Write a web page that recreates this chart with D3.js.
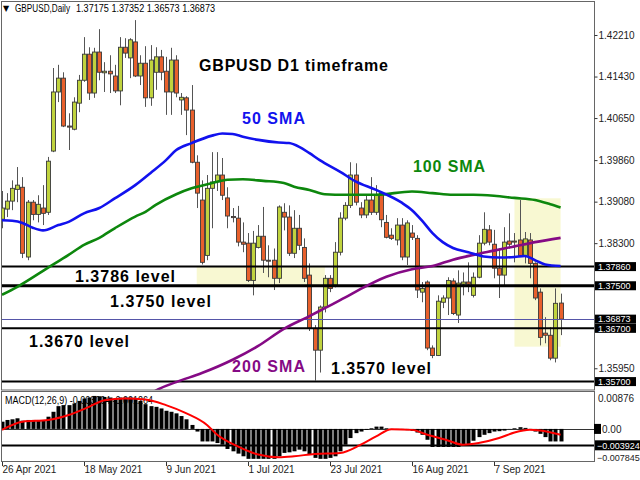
<!DOCTYPE html>
<html><head><meta charset="utf-8">
<script src="https://cdn.jsdelivr.net/npm/d3@7"></script>
<style>
body{margin:0;background:#fff}
svg{display:block}
text{font-family:"Liberation Sans",Arial,sans-serif}
</style>
</head><body>
<svg id="c" width="640" height="480"></svg>
<script>
// ---------- DATA ----------
const openP = [1.3875,1.3894,1.3909,1.3931,1.3935,1.3804,1.3907,1.3884,1.3896,1.3888,
1.4003,1.4114,1.4140,1.4050,1.4044,1.4093,1.4136,1.4185,1.4112,1.4189,
1.4150,1.4153,1.4144,1.4116,1.4198,1.4178,1.4208,1.4144,1.4168,1.4103,
1.4151,1.4180,1.4153,1.4114,1.4174,1.4099,1.4103,1.4080,1.3982,1.3911,
1.3807,1.3933,1.3945,1.3958,1.3915,1.3880,1.3877,1.3832,1.3830,1.3760,
1.3822,1.3843,1.3798,1.3798,1.3764,1.3888,1.3879,1.3811,1.3858,1.3822,
1.3770,1.3670,1.3629,1.3710,1.3764,1.3751,1.3813,1.3877,1.3901,1.3958,
1.3896,1.3883,1.3911,1.3888,1.3924,1.3869,1.3845,1.3836,1.3864,1.3804,
1.3849,1.3839,1.3738,1.3757,1.3633,1.3619,1.3719,1.3727,1.3759,1.3695,
1.3753,1.3757,1.3732,1.3766,1.3830,1.3855,1.3828,1.3783,1.3770,1.3834,
1.3834,1.3836,1.3807,1.3836,1.3792,1.3738,1.3661,1.3657,1.3614,1.37175];
const highP = [1.3928,1.3924,1.3948,1.3973,1.3954,1.3911,1.3911,1.3920,1.3939,1.3992,
1.4159,1.4165,1.4151,1.4074,1.4104,1.4146,1.4217,1.4198,1.4197,1.4232,
1.4170,1.4183,1.4165,1.4217,1.4215,1.4215,1.4249,1.4183,1.4200,1.4202,
1.4198,1.4193,1.4180,1.4197,1.4183,1.4112,1.4106,1.4127,1.3995,1.3948,
1.3958,1.4001,1.4001,1.3990,1.3935,1.3896,1.3900,1.3869,1.3849,1.3853,
1.3864,1.3898,1.3826,1.3820,1.3901,1.3905,1.3901,1.3892,1.3883,1.3839,
1.3792,1.3676,1.3713,1.3770,1.3770,1.3832,1.3888,1.3907,1.3982,1.3980,
1.3907,1.3920,1.3954,1.3939,1.3926,1.3883,1.3858,1.3877,1.3877,1.3873,
1.3864,1.3845,1.3757,1.3760,1.3638,1.3732,1.3732,1.3766,1.3764,1.3779,
1.3775,1.3794,1.3775,1.3845,1.3888,1.3864,1.3855,1.3820,1.3860,1.3886,
1.3849,1.3911,1.3851,1.3849,1.3794,1.3745,1.3691,1.3672,1.3745,1.37352];
const lowP = [1.3858,1.3879,1.3892,1.3907,1.3802,1.3798,1.3873,1.3869,1.3864,1.3883,
1.4001,1.4095,1.4048,1.4005,1.4042,1.4076,1.4133,1.4099,1.4103,1.4136,
1.4114,1.4112,1.4112,1.4089,1.4178,1.4140,1.4142,1.4127,1.4086,1.4088,
1.4118,1.4136,1.4071,1.4071,1.4104,1.4071,1.4033,1.3980,1.3896,1.3790,
1.3798,1.3858,1.3928,1.3911,1.3858,1.3869,1.3824,1.3813,1.3757,1.3732,
1.3820,1.3774,1.3766,1.3742,1.3755,1.3854,1.3806,1.3802,1.3817,1.3757,
1.3665,1.3572,1.3587,1.3700,1.3738,1.3747,1.3807,1.3873,1.3896,1.3901,
1.3877,1.3877,1.3883,1.3883,1.3860,1.3839,1.3836,1.3826,1.3798,1.3789,
1.3836,1.3727,1.3719,1.3629,1.3614,1.3618,1.3708,1.3695,1.3695,1.3680,
1.3732,1.3738,1.3728,1.3764,1.3826,1.3826,1.3764,1.3727,1.3751,1.3820,
1.3794,1.3804,1.3792,1.3764,1.3723,1.3638,1.3642,1.3610,1.3606,1.36573];
const closeP = [1.3896,1.3909,1.3933,1.3939,1.3811,1.3907,1.3884,1.3903,1.3886,1.3984,
1.4114,1.4140,1.4050,1.4048,1.4095,1.4136,1.4185,1.4112,1.4189,1.4151,
1.4153,1.4148,1.4116,1.4198,1.4187,1.4212,1.4144,1.4168,1.4103,1.4174,
1.4180,1.4151,1.4114,1.4174,1.4112,1.4104,1.4080,1.3982,1.3924,1.3794,
1.3933,1.3945,1.3958,1.3920,1.3881,1.3878,1.3832,1.3828,1.3760,1.3830,
1.3843,1.3798,1.3797,1.3764,1.3898,1.3879,1.3811,1.3858,1.3826,1.3764,
1.3670,1.3629,1.3710,1.3764,1.3745,1.3813,1.3877,1.3901,1.3958,1.3907,
1.3883,1.3911,1.3888,1.3920,1.3874,1.3841,1.3839,1.3864,1.3804,1.3868,
1.3841,1.3742,1.3745,1.3633,1.3619,1.3721,1.3727,1.3760,1.3698,1.3755,
1.3757,1.3753,1.3766,1.3830,1.3856,1.3832,1.3783,1.3770,1.3832,1.3828,
1.3832,1.3807,1.3838,1.3792,1.3727,1.3653,1.3657,1.3614,1.3717,1.36873];

const sma50Idx = [0,2,4,6,8,11,13,16,19,22,26,29,32,34,37,41,43,45,47,50,54,56,58,60,62,66,69,73,78,80,82,84,86,88,91,94,97,100,102,104,106,109];
const sma50Val = [1.3873,1.3872,1.3868,1.3859,1.3854,1.3864,1.3870,1.3886,1.3896,1.3914,1.3939,1.3962,1.3986,1.4005,1.4018,1.4032,1.4036,1.4035,1.4030,1.4024,1.4019,1.4018,1.4011,1.3999,1.3986,1.3964,1.3946,1.3930,1.3906,1.3892,1.3872,1.3849,1.3832,1.3821,1.3813,1.3805,1.3803,1.3804,1.3806,1.3798,1.3790,1.3787];
const sma100Idx = [0,3,9,13,16,19,22,26,28,30,34,37,41,44,47,51,55,57,60,63,67,73,80,84,88,92,96,100,104,107,109];
const sma100Val = [1.3733,1.3748,1.3784,1.3808,1.3827,1.3840,1.3858,1.3880,1.3889,1.3902,1.3922,1.3933,1.3943,1.3949,1.3950,1.3947,1.3943,1.3936,1.3930,1.3922,1.3921,1.3921,1.3927,1.3924,1.3921,1.3921,1.3919,1.3915,1.3911,1.3903,1.3897];
const sma200Idx = [28,30,34,39,45,50,55,60,63,67,70,75,80,84,88,92,96,100,104,109];
const sma200Val = [1.3540,1.3553,1.3569,1.3586,1.3611,1.3637,1.3669,1.3693,1.3708,1.3728,1.3744,1.3767,1.3781,1.3787,1.3799,1.3808,1.3816,1.3824,1.3832,1.3840];

const macdHist = [0.00173,0.00214,0.00230,0.00254,0.00197,0.00214,0.00214,0.00214,0.00214,0.00292,
0.00410,0.00545,0.00569,0.00569,0.00609,0.00670,0.00727,0.00751,0.00789,0.00781,
0.00765,0.00751,0.00727,0.00751,0.00751,0.00751,0.00727,0.00670,0.00592,0.00545,
0.00528,0.00490,0.00434,0.00410,0.00372,0.00308,0.00230,0.00095,-0.00063,-0.00300,
-0.00300,-0.00300,-0.00338,-0.00378,-0.00480,-0.00536,-0.00591,-0.00655,-0.00716,-0.00716,
-0.00716,-0.00716,-0.00716,-0.00716,-0.00655,-0.00574,-0.00560,-0.00536,-0.00496,-0.00536,
-0.00614,-0.00693,-0.00716,-0.00716,-0.00693,-0.00655,-0.00536,-0.00378,-0.00219,-0.00101,
-0.00063,-0.00023,0.00017,0.00055,0.00055,0.00017,-0.00006,-0.00023,-0.00023,-0.00030,
-0.00047,-0.00087,-0.00141,-0.00260,-0.00432,-0.00432,-0.00432,-0.00432,-0.00432,-0.00432,
-0.00402,-0.00361,-0.00283,-0.00196,-0.00141,-0.00101,-0.00063,-0.00054,-0.00040,-0.00006,
0.00017,0.00041,0.00024,-0.00006,-0.00063,-0.00118,-0.00196,-0.00300,-0.00300,-0.00300];
const sigIdx = [0,4,9,13,17,20,24,28,32,36,40,42,46,50,54,57,61,66,70,73,76,80,83,87,90,93,97,100,103,105,109];
const sigVal = [-0.00023,0.00173,0.00214,0.00332,0.00528,0.00687,0.00727,0.00703,0.00569,0.00372,0.00095,-0.00141,-0.00418,-0.00614,-0.00678,-0.00655,-0.00598,-0.00574,-0.00378,-0.00181,-0.00006,-0.00023,-0.00141,-0.00276,-0.00378,-0.00338,-0.00219,-0.00087,-0.00023,-0.00040,-0.00141];

const levels = [1.3786, 1.3750, 1.3670, 1.3570];
const levelLabels = ["1.3786 level","1.3750 level","1.3670 level","1.3570 level"];
const bidPrice = 1.36873;
const priceTicks = [1.42210,1.41430,1.40650,1.39860,1.39080,1.38300,1.37520,1.36730,1.35950];
const hiddenTicks = [1.37520,1.36730];
const dateIdx = [0,16,32,48,64,80,96];
const dateLabels = ["26 Apr 2021","18 May 2021","9 Jun 2021","1 Jul 2021","23 Jul 2021","16 Aug 2021","7 Sep 2021"];
const zoneStart = [38,100], zoneEnd = [63,109], zoneTop = [1.3786,1.39143], zoneBottom = [1.3750,1.36356];
const macdLevels = [0,-0.003924];
const macdTicks = [0.00876,-0.007845];
const headerSymbol = "GBPUSD,Daily";
const headerOHLC = "1.37175 1.37352 1.36573 1.36873";
const macdTitle = "MACD(12,26,9) -0.003004 -0.001264";

// ---------- SCALES ----------
const svg = d3.select("#c");
const x = d3.scaleLinear().domain([0,109]).range([2,560.6]);
const y = d3.scaleLinear().domain([1.35542,1.42830]).range([390,2]);
const ym = d3.scaleLinear().domain([-0.007845,0.00876]).range([461.7,392.3]);
const px = i => Math.round(x(i));

svg.append("rect").attr("width",640).attr("height",480).attr("fill","#fff");
const defs = svg.append("defs");
defs.append("clipPath").attr("id","clipMain").append("rect").attr("x",2).attr("y",2).attr("width",592).attr("height",388);
defs.append("clipPath").attr("id","clipMacd").append("rect").attr("x",2).attr("y",392).attr("width",592).attr("height",70);

const main = svg.append("g").attr("clip-path","url(#clipMain)");

// zones
main.selectAll("rect.zone").data(zoneStart).join("rect").attr("class","zone")
  .attr("x",(d,i)=>x(d)).attr("width",(d,i)=>x(zoneEnd[i])-x(d))
  .attr("y",(d,i)=>y(zoneTop[i])).attr("height",(d,i)=>y(zoneBottom[i])-y(zoneTop[i]))
  .attr("fill","#f8f8d2");

// candles
const idx = d3.range(openP.length);
main.selectAll("line.wick").data(idx).join("line").attr("class","wick")
  .attr("x1",i=>px(i)+0.5).attr("x2",i=>px(i)+0.5)
  .attr("y1",i=>y(highP[i])).attr("y2",i=>y(lowP[i]))
  .attr("stroke","#555").attr("stroke-width",1);
main.selectAll("rect.body").data(idx).join("rect").attr("class","body")
  .attr("x",i=>px(i)-1.5).attr("width",4)
  .attr("y",i=>y(Math.max(openP[i],closeP[i])))
  .attr("height",i=>Math.max(1,y(Math.min(openP[i],closeP[i]))-y(Math.max(openP[i],closeP[i]))))
  .attr("fill",i=>closeP[i]>=openP[i]?"#c0d33e":"#e8602c")
  .attr("stroke","#3a3a3a").attr("stroke-width",0.9);

// horizontal levels
const lvW = [2,3,2,2];
main.selectAll("line.lvl").data(levels).join("line").attr("class","lvl")
  .attr("x1",2).attr("x2",594).attr("y1",d=>y(d)).attr("y2",d=>y(d))
  .attr("stroke","#000").attr("stroke-width",(d,i)=>lvW[i]);
main.append("line").attr("x1",2).attr("x2",594).attr("y1",Math.round(y(bidPrice))+0.5).attr("y2",Math.round(y(bidPrice))+0.5)
  .attr("stroke","#5555a8").attr("stroke-width",1);

// SMAs
const lineGen = d3.line().x(d=>x(d[0])).y(d=>y(d[1])).curve(d3.curveMonotoneX);
const smas = [[sma100Idx,sma100Val,"#0d870d"],[sma200Idx,sma200Val,"#850a85"],[sma50Idx,sma50Val,"#1212ee"]];
smas.forEach(s=>{
  main.append("path").datum(s[0].map((d,i)=>[d,s[1][i]])).attr("d",lineGen)
    .attr("fill","none").attr("stroke",s[2]).attr("stroke-width",2.6).attr("stroke-linejoin","round");
});

// annotations
const ann = [
  ["GBPUSD D1 timeframe",199,70.5,189,"#000"],
  ["50 SMA",242,124,63,"#1212ee"],
  ["100 SMA",413,172,72,"#0d870d"],
  [levelLabels[0],75,282,100,"#000"],
  [levelLabels[1],110,307,101,"#000"],
  [levelLabels[2],29,346.5,100,"#000"],
  ["200 SMA",232,371.5,73,"#850a85"],
  [levelLabels[3],331,374,100,"#000"]
];
ann.forEach(a=>{
  svg.append("text").text(a[0]).attr("x",a[1]).attr("y",a[2])
    .attr("font-size",16).attr("font-weight","bold").attr("fill",a[4])
    .attr("textLength",a[3]).attr("lengthAdjust","spacing");
});

// header
svg.append("text").text("\u25BC").attr("x",3).attr("y",11).attr("font-size",8).attr("fill","#000").style("font-family","DejaVu Sans");
svg.append("text").text(headerSymbol).attr("x",15).attr("y",12).attr("font-size",10).attr("fill","#000")
  .attr("textLength",55).attr("lengthAdjust","spacingAndGlyphs");
svg.append("text").text(headerOHLC).attr("x",76).attr("y",12).attr("font-size",10).attr("fill","#000")
  .attr("textLength",139).attr("lengthAdjust","spacingAndGlyphs");

// frames
svg.append("rect").attr("x",1.5).attr("y",1.5).attr("width",593).attr("height",388.5).attr("fill","none").attr("stroke","#666");
svg.append("rect").attr("x",1.5).attr("y",391.5).attr("width",593).attr("height",70).attr("fill","none").attr("stroke","#666");

// right price axis
const ax = svg.append("g").attr("transform","translate(594.5,0)")
  .call(d3.axisRight(y).tickValues(priceTicks).tickSize(3).tickPadding(1)
    .tickFormat(d=>hiddenTicks.includes(d)?"":d3.format(".5f")(d)));
ax.select(".domain").remove();
ax.selectAll("line").attr("stroke","#333");
ax.selectAll("text").attr("font-size",10).attr("fill","#222").style("font-family","'Liberation Sans',Arial,sans-serif");

// black label boxes
const boxVals = levels.concat([bidPrice]);
const boxes = svg.selectAll("g.box").data(boxVals).join("g").attr("class","box")
  .attr("transform",d=>`translate(595,${y(d)})`);
boxes.append("rect").attr("x",0).attr("y",-4.5).attr("width",41).attr("height",9).attr("fill","#000");
boxes.append("text").text(d=>d3.format(".5f")(d)).attr("x",3).attr("y",3.2)
  .attr("font-size",9).attr("fill","#fff");

// ---------- MACD ----------
const mg = svg.append("g").attr("clip-path","url(#clipMacd)");
mg.append("text").text(macdTitle).attr("x",5).attr("y",404).attr("font-size",10).attr("fill","#000")
  .attr("textLength",148).attr("lengthAdjust","spacingAndGlyphs");
mg.selectAll("line.ml").data(macdLevels).join("line").attr("class","ml")
  .attr("x1",2).attr("x2",594).attr("y1",d=>Math.round(ym(d))+0.5).attr("y2",d=>Math.round(ym(d))+0.5)
  .attr("stroke",(d,i)=>i?"#000":"#333").attr("stroke-width",(d,i)=>i?2:1);
mg.selectAll("rect.hist").data(idx).join("rect").attr("class","hist")
  .attr("x",i=>px(i)-1.5).attr("width",4)
  .attr("y",i=>ym(Math.max(0,macdHist[i])))
  .attr("height",i=>Math.abs(ym(macdHist[i])-ym(0)))
  .attr("fill","#000");
mg.append("path").datum(sigIdx.map((d,i)=>[d,sigVal[i]]))
  .attr("d",d3.line().x(d=>x(d[0])).y(d=>ym(d[1])).curve(d3.curveMonotoneX))
  .attr("fill","none").attr("stroke","#f00").attr("stroke-width",2);

// MACD axis labels
svg.append("text").text(d3.format(".5f")(macdTicks[0])).attr("x",598).attr("y",ym(macdTicks[0])+9.5).attr("font-size",10).attr("fill","#222");
svg.append("text").text(d3.format(".6f")(macdTicks[1])).attr("x",597).attr("y",ym(macdTicks[1])-1).attr("font-size",9).attr("fill","#222");
svg.append("rect").attr("x",594).attr("y",ym(0)-5).attr("width",7).attr("height",10).attr("fill","#000");
svg.append("text").text("0.00").attr("x",602).attr("y",ym(0)+3.6).attr("font-size",10).attr("fill","#222");
svg.append("rect").attr("x",595).attr("y",ym(macdLevels[1])-5).attr("width",45).attr("height",10).attr("fill","#000");
svg.append("text").text(d3.format(".6f")(macdLevels[1])).attr("x",597).attr("y",ym(macdLevels[1])+3.3).attr("font-size",9).attr("fill","#fff");

// bottom date axis
const bx = svg.append("g").attr("transform","translate(0,462)")
  .call(d3.axisBottom(x).tickValues(dateIdx).tickSize(4).tickFormat((d,i)=>dateLabels[i]));
bx.select(".domain").remove();
bx.selectAll(".tick").attr("transform",d=>`translate(${px(d)+0.5},0)`);
bx.selectAll("line").attr("stroke","#333");
bx.selectAll("text").attr("text-anchor","start").attr("x",0).attr("y",4).attr("dy","0.71em")
  .attr("font-size",10).attr("fill","#222").style("font-family","'Liberation Sans',Arial,sans-serif");
</script>
</body></html>
